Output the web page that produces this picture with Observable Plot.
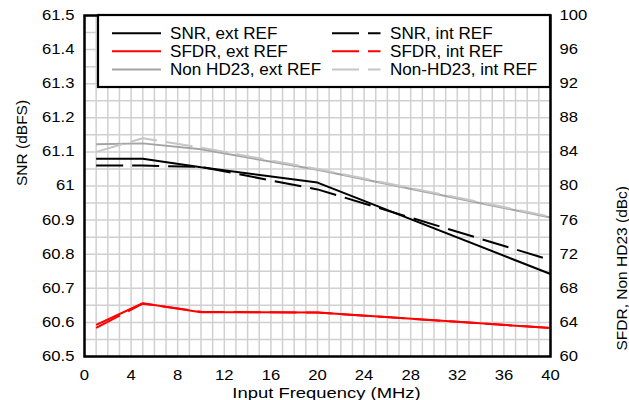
<!DOCTYPE html>
<html><head><meta charset="utf-8">
<script src="https://cdn.jsdelivr.net/npm/d3@7"></script>
<script src="https://cdn.jsdelivr.net/npm/@observablehq/plot@0.6"></script>
<style>html,body{margin:0;padding:0;background:#fff;} #chart{width:629px;height:400px;overflow:hidden;}</style>
</head><body><div id="chart"></div>
<script>
// ---- data ----
const freqMHz = [1, 5, 10, 20, 40];
const snrExtRef = [61.08, 61.08, 61.055, 61.01, 60.742];     // dBFS (left axis)
const snrIntRef = [61.06, 61.06, 61.056, 60.99, 60.783];     // dBFS (left axis)
const sfdrExtRef = [63.7, 66.25, 65.2, 65.15, 63.35];        // dBc (right axis)
const sfdrIntRef = [63.35, 66.2, 65.25, 65.15, 63.35];       // dBc (right axis)
const nonHd23ExtRef = [84.9, 85.0, 84.3, 81.9, 76.3];        // dBc (right axis)
const nonHd23IntRef = [84.0, 85.6, 84.5, 82.0, 76.4];        // dBc (right axis)

const xTicks = [0, 4, 8, 12, 16, 20, 24, 28, 32, 36, 40];
const snrTicks = [60.5, 60.6, 60.7, 60.8, 60.9, 61, 61.1, 61.2, 61.3, 61.4, 61.5];
const dbcTicks = [60, 64, 68, 72, 76, 80, 84, 88, 92, 96, 100];

const legendLeft = ["SNR, ext REF", "SFDR, ext REF", "Non HD23, ext REF"];
const legendRight = ["SNR, int REF", "SFDR, int REF", "Non-HD23, int REF"];

// ---- mapping of right axis (dBc) onto left axis (dBFS) ----
const dbcToSnr = v => 60.5 + (v - 60) / 40;
const snrToDbc = s => 60 + (s - 60.5) * 40;

const FONT = "'Liberation Sans', Arial, sans-serif";
const BLACK = "#000000", RED = "#ff0000", GRAY_EXT = "#a4a4a4", GRAY_INT = "#c6c6c6";
const DASH = "27,9";

const series = [
  {name: legendLeft[0], vals: snrExtRef, color: BLACK, dash: null},
  {name: legendRight[0], vals: snrIntRef, color: BLACK, dash: DASH},
  {name: legendLeft[2], vals: nonHd23ExtRef.map(dbcToSnr), color: GRAY_EXT, dash: null},
  {name: legendRight[2], vals: nonHd23IntRef.map(dbcToSnr), color: GRAY_INT, dash: DASH},
  {name: legendLeft[1], vals: sfdrExtRef.map(dbcToSnr), color: RED, dash: null},
  {name: legendRight[1], vals: sfdrIntRef.map(dbcToSnr), color: RED, dash: DASH}
];

const gridX = d3.range(0, 41, 1);
const gridY = d3.range(0, 21).map(i => 60.5 + i * 0.05);
const fmtSnr = d => String(Math.round(d * 10) / 10);

const lineMarks = series.map(s =>
  Plot.line(freqMHz.map((f, i) => ({f, v: s.vals[i]})), {
    x: "f", y: "v", stroke: s.color, strokeWidth: 2,
    strokeDasharray: s.dash || undefined, strokeLinejoin: "miter", strokeLinecap: "butt"
  })
);

const chart = Plot.plot({
  width: 629, height: 400,
  marginLeft: 84, marginRight: 79, marginTop: 15, marginBottom: 44,
  style: {fontFamily: FONT, fontSize: "14px", background: "white", color: "black", overflow: "visible"},
  x: {domain: [0, 40]},
  y: {domain: [60.5, 61.5]},
  marks: [
    Plot.gridX({ticks: gridX, stroke: "#d0d0d0", strokeOpacity: 1, strokeWidth: 1.5}),
    Plot.gridY({ticks: gridY, stroke: "#d0d0d0", strokeOpacity: 1, strokeWidth: 1.5}),
    Plot.axisX({ticks: xTicks, tickSize: 0, tickPadding: 14, tickFormat: d => String(d), label: null, fontSize: 14}),
    Plot.axisY({ticks: snrTicks, anchor: "left", tickSize: 0, tickPadding: 10, tickFormat: fmtSnr, label: null, fontSize: 14}),
    Plot.axisY({ticks: dbcTicks.map(dbcToSnr), anchor: "right", tickSize: 0, tickPadding: 9,
      tickFormat: d => String(Math.round(snrToDbc(d))), label: null, fontSize: 14}),
    ...lineMarks,
    Plot.frame({stroke: "black", strokeWidth: 2.5}),
    Plot.text(["SNR (dBFS)"], {frameAnchor: "left", dx: -62, rotate: -90, fontSize: 15.5, fill: "black"}),
    Plot.text(["SFDR, Non HD23 (dBc)"], {frameAnchor: "right", dx: 72, rotate: -90, fontSize: 15.5, fill: "black"}),
    Plot.text(["Input Frequency (MHz)"], {frameAnchor: "bottom", dx: 9, dy: 41, fontSize: 15.5, fill: "black"})
  ]
});

// ---- legend (inside the plot area, top) ----
const svg = d3.select(chart);
const lg = svg.append("g").attr("class", "legend").attr("font-family", FONT).attr("text-anchor", "start");
lg.append("rect").attr("x", 98).attr("y", 15).attr("width", 452).attr("height", 72)
  .attr("fill", "white").attr("stroke", "black").attr("stroke-width", 2.2);
const rowsY = [33.3, 51.3, 69.5];
const leftColors = [BLACK, RED, GRAY_EXT];
const rightColors = [BLACK, RED, GRAY_INT];
rowsY.forEach((y, i) => {
  lg.append("line").attr("x1", 112).attr("x2", 161).attr("y1", y).attr("y2", y)
    .attr("stroke", leftColors[i]).attr("stroke-width", 2);
  lg.append("text").attr("class", "stretch").attr("x", 170).attr("y", y).attr("dy", "0.35em")
    .attr("text-anchor", "start").attr("font-size", 16).attr("fill", "black").text(legendLeft[i]);
  lg.append("line").attr("x1", 332).attr("x2", 380.5).attr("y1", y).attr("y2", y)
    .attr("stroke", rightColors[i]).attr("stroke-width", 2).attr("stroke-dasharray", DASH);
  lg.append("text").attr("class", "stretch").attr("x", 390).attr("y", y).attr("dy", "0.35em")
    .attr("text-anchor", "start").attr("font-size", 16).attr("fill", "black").text(legendRight[i]);
});

document.getElementById("chart").appendChild(chart);

// horizontal stretch of non-rotated text to match the reference's wide glyphs
chart.querySelectorAll("text").forEach(t => {
  const list = t.transform && t.transform.baseVal;
  if (!list) return;
  for (let k = 0; k < list.numberOfItems; k++) if (list.getItem(k).type === SVGTransform.SVG_TRANSFORM_ROTATE) return;
  let bb;
  try { bb = t.getBBox(); } catch (e) { return; }
  if (!bb || !isFinite(bb.x)) return;
  const anchor = getComputedStyle(t).textAnchor;
  const ax = anchor === "end" ? bb.x + bb.width : anchor === "middle" ? bb.x + bb.width / 2 : bb.x;
  const ay = bb.y + bb.height / 2;
  const s = t.classList.contains("stretch") ? 1.07 : 1.19;
  const T1 = chart.createSVGTransform(); T1.setTranslate(ax, ay);
  const S = chart.createSVGTransform(); S.setScale(s, 1);
  const T2 = chart.createSVGTransform(); T2.setTranslate(-ax, -ay);
  list.appendItem(T1); list.appendItem(S); list.appendItem(T2);
});
</script>
</body></html>
